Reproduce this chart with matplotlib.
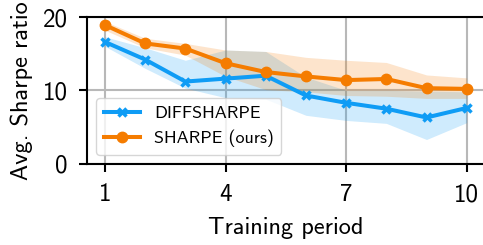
import matplotlib
matplotlib.use("Agg")
import matplotlib.pyplot as plt
import numpy as np

periods = [1, 2, 3, 4, 5, 6, 7, 8, 9, 10]
diff_mean = [16.6, 14.2, 11.2, 11.6, 12.0, 9.3, 8.3, 7.5, 6.3, 7.6]
diff_upper = [17.3, 15.8, 14.1, 15.5, 15.3, 11.8, 10.0, 10.0, 9.9, 9.8]
diff_lower = [16.0, 13.0, 10.3, 9.0, 8.8, 6.6, 5.9, 5.5, 3.3, 5.6]
sharpe_mean = [18.9, 16.4, 15.7, 13.7, 12.5, 11.9, 11.4, 11.55, 10.3, 10.2]
sharpe_upper = [19.4, 17.1, 16.4, 15.5, 15.3, 14.5, 14.1, 13.8, 12.1, 11.7]
sharpe_lower = [18.2, 15.8, 14.8, 11.9, 10.1, 9.8, 9.3, 9.2, 8.9, 8.9]
xticks = [1, 4, 7, 10]
yticks = [0, 10, 20]

plt.rcParams['font.family'] = ['cmss10', 'DejaVu Sans']
plt.rcParams['axes.unicode_minus'] = False
plt.rcParams['mathtext.fontset'] = 'cm'

blue = '#0f9cf5'
orange = '#f57c00'

fig = plt.figure(figsize=(4.83, 2.45), dpi=100)
ax = fig.add_axes([0.1807, 0.3318, 0.8230, 0.5988])

ax.fill_between(periods, diff_lower, diff_upper, color=blue, alpha=0.2, linewidth=0)
ax.fill_between(periods, sharpe_lower, sharpe_upper, color=orange, alpha=0.2, linewidth=0)
ax.plot(periods, diff_mean, color=blue, lw=2.9, marker='x', ms=5.5, mew=2.5, label='DIFFSHARPE')
ax.plot(periods, sharpe_mean, color=orange, lw=2.9, marker='o', ms=7.5, label='SHARPE (ours)')

ax.set_xlim(0.56, 10.45)
ax.set_ylim(0, 20)
ax.set_xticks(xticks)
ax.set_yticks(yticks)
ax.grid(True, color='#b8b8b8', lw=1.5)
ax.set_axisbelow(True)
for s in ax.spines.values():
    s.set_linewidth(1.5)
    s.set_color('black')
ax.tick_params(labelsize=18, width=1.5, length=6, pad=8)
ax.set_xlabel('Training period', fontsize=17.5, labelpad=8)
ax.set_ylabel('Avg. Sharpe ratio', fontsize=17.5, labelpad=7)
leg = ax.legend(loc='lower left', fontsize=13, framealpha=0.8, borderaxespad=0.5,
                handlelength=2.0)

fig.savefig('out.png', dpi=100)
